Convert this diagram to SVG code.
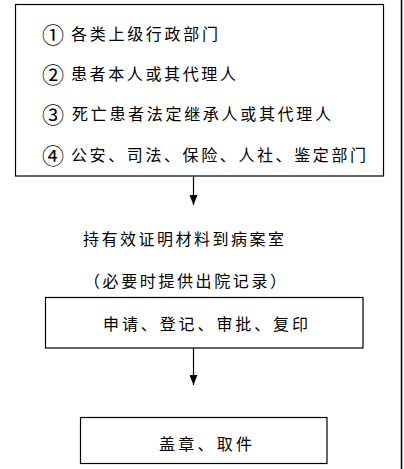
<svg xmlns="http://www.w3.org/2000/svg" width="404" height="469" viewBox="0 0 404 469">
<style>
.box{fill:#fff;stroke:#000;stroke-width:1.2}
.t{font-family:"Noto Sans CJK SC","Noto Sans CJK TC",sans-serif;font-size:16px;fill:#000;dominant-baseline:central}
.n{font-family:"Noto Sans CJK SC","Noto Sans CJK TC",sans-serif;font-size:22px;fill:#000;dominant-baseline:central}
.c{stroke:#000;stroke-width:1.2;fill:none}
</style>
<defs>
<marker id="ah" viewBox="0 0 10 8" refX="10" refY="4" markerWidth="10" markerHeight="8" markerUnits="userSpaceOnUse" orient="auto">
<path d="M0,0 L10,4 L0,8 z" fill="#000"/>
</marker>
</defs>
<rect width="404" height="469" fill="#fff"/>
<line x1="401.5" y1="0" x2="401.5" y2="469" stroke="#000" stroke-width="1.5"/>
<g id="applicants">
<rect class="box" x="15.5" y="4.5" width="368" height="171.5"/>
<text class="n" x="42" y="33">①</text>
<text class="t" x="71" y="33" textLength="147" lengthAdjust="spacing">各类上级行政部门</text>
<text class="n" x="42" y="73">②</text>
<text class="t" x="71" y="73" textLength="165" lengthAdjust="spacing">患者本人或其代理人</text>
<text class="n" x="42" y="113">③</text>
<text class="t" x="72" y="113" textLength="259" lengthAdjust="spacing">死亡患者法定继承人或其代理人</text>
<text class="n" x="42" y="153.5">④</text>
<text class="t" x="71" y="153.5" textLength="295" lengthAdjust="spacing">公安、司法、保险、人社、鉴定部门</text>
</g>
<g id="materials">
<text class="t" x="83" y="238" textLength="201" lengthAdjust="spacing">持有效证明材料到病案室</text>
<text class="t" x="84" y="280" textLength="202" lengthAdjust="spacing">（必要时提供出院记录）</text>
</g>
<g id="apply">
<rect class="box" x="45.5" y="297.5" width="317.5" height="50.5"/>
<text class="t" x="103" y="323" textLength="205" lengthAdjust="spacing">申请、登记、审批、复印</text>
</g>
<g id="collect">
<rect class="box" x="80.5" y="417.5" width="246.5" height="46"/>
<text class="t" x="159" y="443" textLength="93" lengthAdjust="spacing">盖章、取件</text>
</g>
<g id="connectors">
<line class="c" x1="193.5" y1="176" x2="193.5" y2="205" marker-end="url(#ah)"/>
<line class="c" x1="193.5" y1="348" x2="193.5" y2="385" marker-end="url(#ah)"/>
</g>
</svg>
